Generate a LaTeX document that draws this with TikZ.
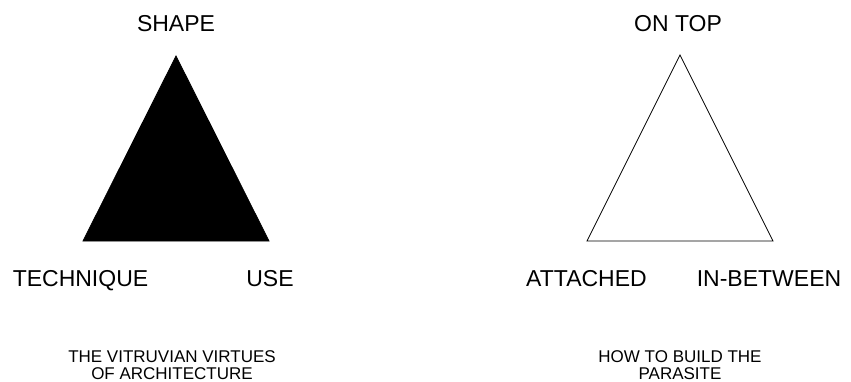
\documentclass[tikz,border=0pt]{standalone}
\usepackage{fontspec}
\setmainfont{Liberation Sans}
\begin{document}
\begin{tikzpicture}[x=1pt,y=-1pt,
  lab/.style={font=\fontsize{23}{27}\selectfont, anchor=base, inner sep=0pt},
  captxt/.style={font=\fontsize{17}{17}\selectfont, anchor=base, inner sep=0pt, align=center},
  tri/.style={draw=black, line width=0.8pt, line join=miter}]
\useasboundingbox (0,0) rectangle (851,382);
% left triangle
\coordinate (la) at (176,56);
\coordinate (lb) at (83,241);
\coordinate (lc) at (269,241);
\filldraw[tri, fill=black] (la) -- (lb) -- (lc) -- cycle;
\node[lab] (shape) at (176,32) {SHAPE};
\node[lab] (tech) at (80.5,286) {TECHNIQUE};
\node[lab] (use) at (270,286) {USE};
\node[captxt] (vitr) at (172,379) {THE VITRUVIAN VIRTUES\\OF ARCHITECTURE};
% right triangle
\coordinate (ra) at (680,55);
\coordinate (rb) at (587,241);
\coordinate (rc) at (773,241);
\draw[tri] (ra) -- (rb) -- (rc) -- cycle;
\node[lab] (ontop) at (678,32) {ON TOP};
\node[lab] (att) at (586.5,286) {ATTACHED};
\node[lab] (inb) at (769,286) {IN-BETWEEN};
\node[captxt] (para) at (680,379) {HOW TO BUILD THE\\PARASITE};
\end{tikzpicture}
\end{document}
